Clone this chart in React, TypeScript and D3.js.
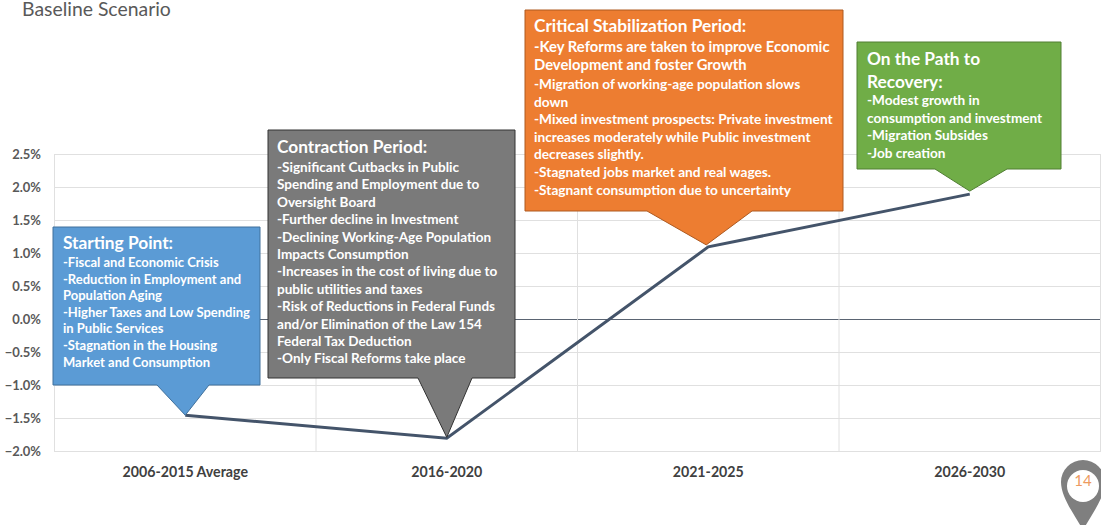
import React from "react";
import * as d3 from "d3";

const categories = ["2006-2015 Average", "2016-2020", "2021-2025", "2026-2030"];
const growth = [-1.45, -1.8, 1.1, 1.9];
const yTicks = [-2, -1.5, -1, -0.5, 0, 0.5, 1, 1.5, 2, 2.5];

const startingLines = [
  "-Fiscal and Economic Crisis",
  "-Reduction in Employment and",
  "Population Aging",
  "-Higher Taxes and Low Spending",
  "in Public Services",
  "-Stagnation in the Housing",
  "Market and Consumption",
];
const contractionLines = [
  "-Significant Cutbacks in Public",
  "Spending and Employment due to",
  "Oversight Board",
  "-Further decline in Investment",
  "-Declining Working-Age Population",
  "Impacts Consumption",
  "-Increases in the cost of living due to",
  "public utilities and taxes",
  "-Risk of Reductions in Federal Funds",
  "and/or Elimination of the Law 154",
  "Federal Tax Deduction",
  "-Only Fiscal Reforms take place",
];
const criticalLines = [
  "-Migration of working-age population slows",
  "down",
  "-Mixed investment prospects: Private investment",
  "increases moderately while Public investment",
  "decreases slightly.",
  "-Stagnated jobs market and real wages.",
  "-Stagnant consumption due to uncertainty",
];
const criticalLead = ["-Key Reforms are taken to improve Economic", "Development and foster Growth"];
const recoveryLines = [
  "-Modest growth in",
  "consumption and investment",
  "-Migration Subsides",
  "-Job creation",
];

const FONT = "Lato, Carlito, sans-serif";

const x = d3.scaleBand<string>().domain(categories).range([54.5, 1100.5]);
const y = d3.scaleLinear().domain([-2, 2.5]).range([451.5, 154.5]);
const px = (i: number) => (x(categories[i]) as number) + x.bandwidth() / 2;
const linePath = d3
  .line<number>()
  .x((_, i) => px(i))
  .y((d) => y(d))(growth) as string;

function Callout(props: {
  i: number;
  box: [number, number, number, number];
  base: [number, number];
  fill: string;
  stroke: string;
  tipDy: number;
  tipDx?: number;
}) {
  const { i, box, base, fill, stroke, tipDy, tipDx = 0 } = props;
  const [l, t, r, b] = box;
  const tx = px(i) + tipDx;
  const ty = y(growth[i]) + tipDy;
  const d = `M${l},${t}L${r},${t}L${r},${b}L${base[1]},${b}L${tx},${ty}L${base[0]},${b}L${l},${b}Z`;
  return <path d={d} fill={fill} stroke={stroke} strokeWidth={1} />;
}

function Lines(props: { lines: string[]; x: number; y0: number; step: number; size: number }) {
  return (
    <g>
      {props.lines.map((s, k) => (
        <text
          key={k}
          x={props.x}
          y={props.y0 + k * props.step}
          fontSize={props.size}
          fontWeight={700}
          fill="#ffffff"
          fontFamily={FONT}
        >
          {s}
        </text>
      ))}
    </g>
  );
}

export default function App() {
  const gridXs = [...categories.map((c) => x(c) as number), 1100.5];
  return (
    <svg
      width={1101}
      height={525}
      style={{ position: "absolute", left: 0, top: 0, background: "#fff" }}
    >
      <text x={22} y={16} fontSize={19.4} fill="#595959" fontFamily={FONT}>
        Baseline Scenario
      </text>

      {yTicks.map((t) => (
        <g key={t}>
          <line
            x1={54}
            x2={1101}
            y1={y(t)}
            y2={y(t)}
            stroke={t === 0 ? "#5a6472" : "#e0e0e0"}
            strokeWidth={1}
          />
          <text
            x={41}
            y={y(t) + 4.5}
            textAnchor="end"
            fontSize={13}
            fontWeight={700}
            fill="#595959"
            fontFamily={FONT}
          >
            {d3.format(".1f")(t)}%
          </text>
        </g>
      ))}
      {gridXs.map((gx) => (
        <line key={gx} x1={gx} x2={gx} y1={154.5} y2={451.5} stroke="#e0e0e0" strokeWidth={1} />
      ))}
      {categories.map((c, i) => (
        <text
          key={c}
          x={px(i)}
          y={477}
          textAnchor="middle"
          fontSize={14.2}
          fontWeight={700}
          fill="#404040"
          fontFamily={FONT}
        >
          {c}
        </text>
      ))}

      <path d={linePath} fill="none" stroke="#44546a" strokeWidth={3} />

      <Callout i={0} box={[53, 227, 260, 385]} base={[157, 209]} fill="#5b9bd5" stroke="#41719c" tipDy={0} />
      <Callout i={1} box={[268, 130, 515, 378]} base={[418, 472]} fill="#7a7a7a" stroke="#333333" tipDy={-1} />
      <Callout i={2} box={[525, 10, 843, 211]} base={[647, 752]} fill="#ed7d31" stroke="#ae5a21" tipDy={-2} tipDx={-2} />
      <Callout i={3} box={[857, 42, 1061, 169]} base={[935, 1007]} fill="#70ad47" stroke="#507e32" tipDy={-3} />

      <Lines lines={["Starting Point:"]} x={63} y0={249} step={0} size={17.3} />
      <Lines lines={startingLines} x={63} y0={267} step={16.6} size={13} />

      <Lines lines={["Contraction Period:"]} x={277} y0={153} step={0} size={17.3} />
      <Lines lines={contractionLines} x={277} y0={172} step={17.4} size={13.55} />

      <Lines lines={["Critical Stabilization Period:"]} x={534} y0={32} step={0} size={17.3} />
      <Lines lines={criticalLead} x={534} y0={52} step={18} size={14.8} />
      <Lines lines={criticalLines} x={534} y0={89} step={17.6} size={13.7} />

      <Lines lines={["On the Path to", "Recovery:"]} x={867} y0={65} step={22.5} size={17.3} />
      <Lines lines={recoveryLines} x={867} y0={105} step={17.6} size={13.6} />

      <path
        d="M1061,482A22,22 0 0 1 1105,482C1105,497 1092,514 1083,530C1074,514 1061,497 1061,482Z"
        fill="#7f7f7f"
      />
      <circle cx={1083} cy={486} r={16} fill="#ffffff" />
      <text x={1083} y={486} textAnchor="middle" fontSize={15} fill="#ed9a60" fontFamily={FONT}>
        14
      </text>
    </svg>
  );
}
